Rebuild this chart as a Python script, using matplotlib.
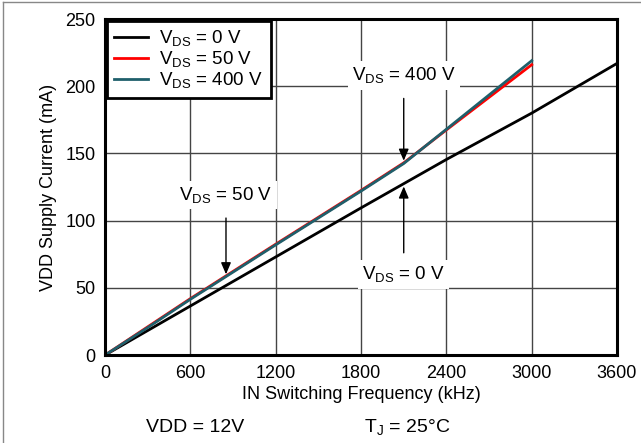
import matplotlib
matplotlib.use('Agg')
import matplotlib.pyplot as plt
from matplotlib.lines import Line2D

plt.rcParams['font.family'] = ['Liberation Sans', 'DejaVu Sans']
plt.rcParams['mathtext.default'] = 'regular'

# Dados
freq_0v = [0, 600, 1200, 1800, 2100, 2400, 3000, 3600]
corr_0v = [0, 36.5, 73, 109.5, 127.5, 145.5, 180, 217]

freq_50v = [0, 300, 600, 1200, 1800, 2100, 2400, 3000]
corr_50v = [0, 21, 42, 82.5, 122.5, 143, 167.5, 216]

freq_400v = [0, 300, 600, 1200, 1800, 2100, 2400, 3000]
corr_400v = [0, 20.5, 41.5, 82, 122, 142.5, 168, 219]

xticks = [0, 600, 1200, 1800, 2400, 3000, 3600]
yticks = [0, 50, 100, 150, 200, 250]

fig = plt.figure(figsize=(6.41, 4.43), dpi=100)
ax = fig.add_axes([0.164, 0.1986, 0.7986, 0.7584])

ax.plot(freq_0v, corr_0v, color='black', lw=2, label='$V_{DS}$ = 0 V')
ax.plot(freq_50v, corr_50v, color='#ff0000', lw=2, label='$V_{DS}$ = 50 V')
ax.plot(freq_400v, corr_400v, color='#1f5f6b', lw=2, label='$V_{DS}$ = 400 V')

ax.set_xlim(0, 3600)
ax.set_ylim(0, 250)
ax.set_xticks(xticks)
ax.set_yticks(yticks)
ax.tick_params(length=0, labelsize=13, pad=7)
ax.grid(True, color='#444444', lw=1)
ax.set_axisbelow(True)
for s in ax.spines.values():
    s.set_linewidth(2.2)

ax.set_xlabel('IN Switching Frequency (kHz)', fontsize=13, labelpad=3)
ax.set_ylabel('VDD Supply Current (mA)', fontsize=13, labelpad=6)

leg = ax.legend(loc='upper left', fontsize=13.5, handlelength=1.8, borderaxespad=0.1,
                fancybox=False, framealpha=1, edgecolor='black',
                labelspacing=0.05, borderpad=0.4, handletextpad=0.6)
leg.get_frame().set_linewidth(2)

# anotações com setas
seta = dict(arrowstyle='-|>,head_width=0.3,head_length=0.7', color='black', lw=1)
caixa = dict(facecolor='white', edgecolor='none', pad=3)

ax.annotate('', xy=(2100, 142.5), xytext=(2100, 193), arrowprops=seta)
ax.text(2100, 208, '$V_{DS}$ = 400 V', ha='center', va='center', fontsize=13.5, bbox=caixa)

ax.annotate('', xy=(2100, 127.5), xytext=(2100, 74), arrowprops=seta)
ax.text(2100, 60, '$V_{DS}$ = 0 V', ha='center', va='center', fontsize=13.5, bbox=caixa)

ax.annotate('', xy=(850, 58), xytext=(850, 104), arrowprops=seta)
ax.text(850, 119, '$V_{DS}$ = 50 V', ha='center', va='center', fontsize=13.5, bbox=caixa)

fig.text(0.305, 0.035, 'VDD = 12V', ha='center', va='center', fontsize=14)
fig.text(0.635, 0.035, '$T_J$ = 25°C', ha='center', va='center', fontsize=14)

# moldura cinza
fig.add_artist(Line2D([0.005, 1], [0.996, 0.996], transform=fig.transFigure, color='#888888', lw=1))
fig.add_artist(Line2D([0.005, 0.005], [0, 0.996], transform=fig.transFigure, color='#888888', lw=1))

fig.savefig('out.png', dpi=100)
